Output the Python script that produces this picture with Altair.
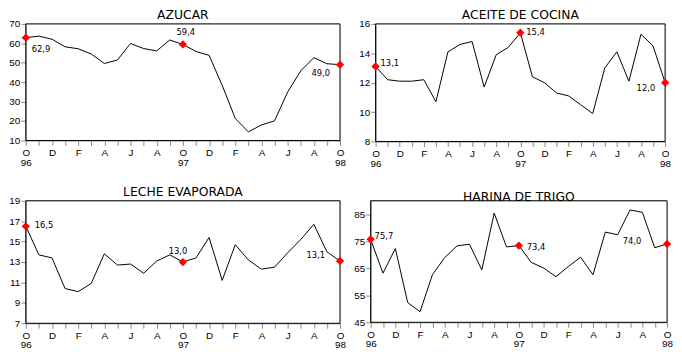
import json
import altair as alt
import pandas as pd

# ---------------- data ----------------
months = ["O", "N", "D", "E", "F", "M", "A", "M", "J", "J", "A", "S",
          "O", "N", "D", "E", "F", "M", "A", "M", "J", "J", "A", "S", "O"]
years = ["96"] + [""] * 11 + ["97"] + [""] * 11 + ["98"]

azucar = [62.9, 63.7, 62.1, 58.2, 57.2, 54.5, 49.6, 51.4, 59.9, 57.3, 56.1, 61.7,
          59.4, 55.8, 53.8, 38.4, 21.3, 14.4, 18.0, 20.1, 34.9, 45.8, 52.6, 49.5, 49.0]
aceite = [13.1, 12.2, 12.1, 12.1, 12.2, 10.7, 14.1, 14.6, 14.8, 11.7, 13.9, 14.4,
          15.4, 12.4, 12.0, 11.3, 11.1, 10.5, 9.9, 13.0, 14.1, 12.1, 15.3, 14.5, 12.0]
leche = [16.5, 13.7, 13.4, 10.4, 10.1, 10.9, 13.8, 12.7, 12.8, 11.9, 13.1, 13.7,
         13.0, 13.4, 15.4, 11.2, 14.7, 13.2, 12.3, 12.5, 13.9, 15.2, 16.7, 14.0, 13.1]
harina = [75.7, 63.2, 72.3, 52.3, 48.9, 62.6, 69.0, 73.3, 73.9, 64.4, 85.4, 72.9,
          73.4, 67.2, 65.1, 61.9, 65.6, 69.1, 62.6, 78.4, 77.4, 86.6, 85.7, 72.6, 74.0]

marked = [0, 12, 24]

titles = ["AZUCAR", "ACEITE DE COCINA", "LECHE EVAPORADA", "HARINA DE TRIGO"]
y_domains = [[10, 70], [8, 16], [7, 19], [45, 90]]
y_ticks = [[10, 20, 30, 40, 50, 60, 70], [8, 10, 12, 14, 16],
           [7, 9, 11, 13, 15, 17, 19], [45, 55, 65, 75, 85]]

# label styles (align, dx, dy) for the three marked points in each panel
label_styles = [
    [("left", 6, 12), ("center", 3, -13), ("right", -10, 8)],
    [("left", 5, -4), ("left", 6, -1), ("right", -10, 5)],
    [("left", 9, -1), ("center", -5, -11), ("right", -15, -6)],
    [("left", 4, -3), ("left", 8, 1), ("right", -26, -3)],
]
sizes = [(318, 118), (293, 119), (318, 124), (300, 123)]

FONT = "DejaVu Sans"
AXFONT = "Liberation Sans"
xlabel_expr = ("datum.value % 2 == 0 ? [" + json.dumps(months) + "[datum.value], "
               + json.dumps(years) + "[datum.value]] : ''")


def panel(k, values):
    df = pd.DataFrame({"i": list(range(len(values))), "v": values})
    df["lab"] = [f"{v:.1f}".replace(".", ",") for v in values]
    x = alt.X("i:Q", scale=alt.Scale(domain=[0, 24], nice=False, zero=False),
              axis=alt.Axis(values=list(range(25)), labelExpr=xlabel_expr, title=None,
                            grid=False, labelOverlap=False, labelBound=False,
                            labelFlush=False, labelLineHeight=10, labelPadding=2))
    y = alt.Y("v:Q", scale=alt.Scale(domain=y_domains[k], nice=False, zero=False),
              axis=alt.Axis(values=y_ticks[k], title=None, grid=False,
                            labelOverlap=False, labelPadding=1))
    w, h = sizes[k]
    base = alt.Chart(df)
    frame = alt.Chart(df.head(1)).mark_rect(
        fillOpacity=0, stroke="black", strokeWidth=1
    ).encode(x=alt.value(0), x2=alt.value(w), y=alt.value(0), y2=alt.value(h))
    line = base.mark_line(color="black", strokeWidth=1).encode(x=x, y=y)
    pts = base.transform_filter(
        alt.FieldOneOfPredicate(field="i", oneOf=marked)
    ).mark_point(shape="diamond", filled=True, color="#ff0000", size=70, opacity=1).encode(x=x, y=y)
    texts = []
    for j, idx in enumerate(marked):
        al, dx, dy = label_styles[k][j]
        texts.append(
            base.transform_filter(alt.datum.i == idx)
            .mark_text(align=al, dx=dx, dy=dy, baseline="middle", font=FONT,
                       fontSize=8.5, color="black")
            .encode(x=x, y=y, text="lab:N")
        )
    return alt.layer(line, frame, pts, *texts).properties(
        width=w, height=h,
        title=alt.Title(titles[k], font=FONT, fontSize=12.5, fontWeight="normal",
                        color="black", offset=-3, anchor="middle"),
    )


p1 = panel(0, azucar)
p2 = panel(1, aceite)
p3 = panel(2, leche)
p4 = panel(3, harina)

row1 = alt.hconcat(p1, p2, spacing=36, bounds="flush")
row2 = alt.hconcat(p3, p4, spacing=31, bounds="flush")
chart = alt.vconcat(row1, row2, spacing=17).properties(
    padding={"left": 0, "top": -1, "right": 0, "bottom": -2},
).configure_view(
    stroke=None
).configure_axis(
    domainColor="black", tickColor="black", labelColor="black",
    labelFont=AXFONT, labelFontSize=7, tickSize=3, domainWidth=1, tickWidth=1,
).configure(background="white")

chart.save("out.html", embed_options={"renderer": "svg", "actions": False})
